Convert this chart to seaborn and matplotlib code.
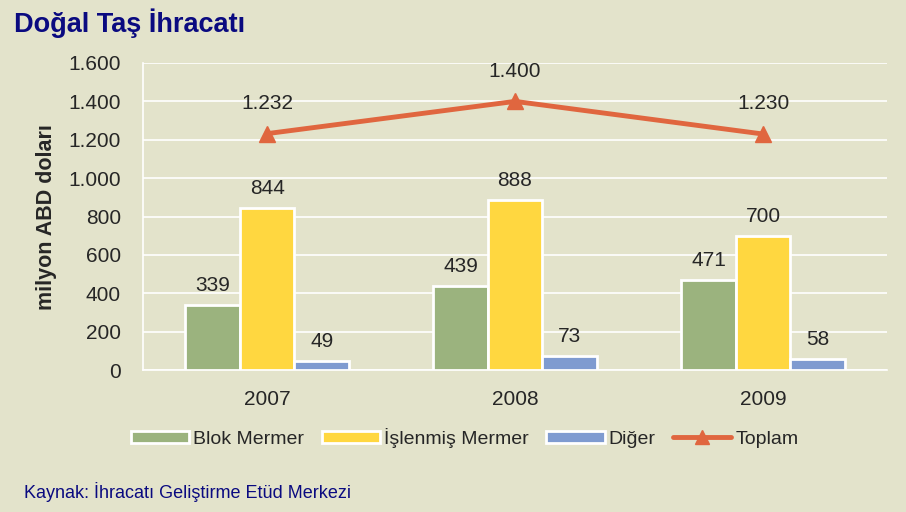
import pandas as pd
import numpy as np
import matplotlib.pyplot as plt
import matplotlib.ticker as mticker
from matplotlib.lines import Line2D
from matplotlib.patches import Patch
import seaborn as sns

years = ["2007", "2008", "2009"]
blok = [339, 439, 471]
islenmis = [844, 888, 700]
diger = [49, 73, 58]
toplam = [1232, 1400, 1230]
series_names = ["Blok Mermer", "İşlenmiş Mermer", "Diğer"]

colors = ["#9BB37E", "#FFD740", "#7F9BD0"]
line_color = "#E0663F"
bg = "#E3E3CB"
navy = "#0A0A80"

def tr_fmt(v):
    return f"{v:,.0f}".replace(",", ".")

df = pd.DataFrame({
    "yil": years * 3,
    "seri": [s for s in series_names for _ in years],
    "deger": blok + islenmis + diger,
})

sns.set_style("white")
plt.rcParams['font.family'] = ['Liberation Sans', 'DejaVu Sans']

fig = plt.figure(figsize=(9.06, 5.12), dpi=100, facecolor=bg)
ax = fig.add_axes([0.158, 0.277, 0.821, 0.600])
ax.set_facecolor(bg)

sns.barplot(data=df, x="yil", y="deger", hue="seri", palette=colors,
            saturation=1, width=0.66, edgecolor="white", linewidth=2, ax=ax,
            legend=False, zorder=3)

for cont, vals in zip(ax.containers, [blok, islenmis, diger]):
    ax.bar_label(cont, labels=[tr_fmt(v) for v in vals], padding=7, fontsize=15)

xs = np.arange(len(years))
ax.plot(xs, toplam, color=line_color, lw=3.5, marker="^", markersize=12, zorder=4)
for x, v in zip(xs, toplam):
    ax.annotate(tr_fmt(v), (x, v), xytext=(0, 15), textcoords="offset points",
                ha="center", va="bottom", fontsize=15)

ax.set_ylim(0, 1600)
ax.set_xlim(-0.5, 2.5)
ax.set_yticks(range(0, 1601, 200))
ax.yaxis.set_major_formatter(mticker.FuncFormatter(lambda v, p: tr_fmt(v)))
ax.grid(axis="y", color="white", lw=1.2, zorder=0)
ax.set_axisbelow(True)
for s in ["top", "right"]:
    ax.spines[s].set_visible(False)
ax.spines["left"].set_color("white")
ax.spines["bottom"].set_color("white")
ax.spines["left"].set_linewidth(1.2)
ax.spines["bottom"].set_linewidth(1.2)
ax.tick_params(axis="both", labelsize=15, length=0)
ax.tick_params(axis="x", pad=14)
ax.tick_params(axis="y", pad=16)
ax.set_xlabel("")
ax.set_ylabel("milyon ABD doları", fontsize=15.5, fontweight="bold", labelpad=8)

handles = [Patch(facecolor=c, edgecolor="white", linewidth=2) for c in colors]
handles.append(Line2D([0], [0], color=line_color, lw=3.5, marker="^", markersize=10))
fig.legend(handles, series_names + ["Toplam"], loc="center", ncol=4,
           bbox_to_anchor=(0.513, 0.145), frameon=False, fontsize=14,
           handlelength=3.0, handleheight=0.6, columnspacing=0.9, handletextpad=0.2)

fig.text(0.015, 0.955, "Doğal Taş İhracatı", fontsize=19.5, fontweight="bold",
         color=navy, va="center")
fig.text(0.027, 0.04, "Kaynak: İhracatı Geliştirme Etüd Merkezi", fontsize=13,
         color=navy, va="center")

fig.savefig("out.png", dpi=100, facecolor=bg)
